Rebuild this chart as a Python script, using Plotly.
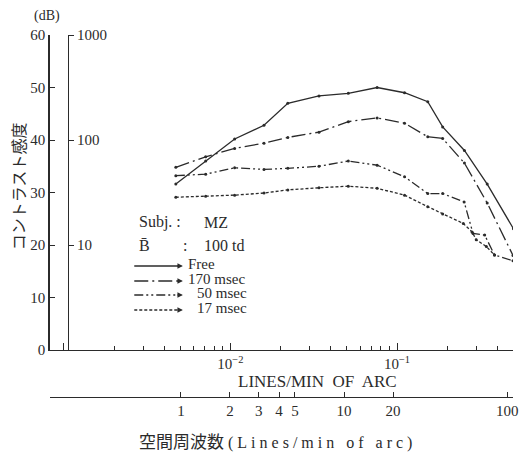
import plotly.graph_objects as go

# Spatial frequency (lines/min of arc) and contrast sensitivity (dB)
free_f = [0.0047, 0.0071, 0.0106, 0.0159, 0.0221, 0.034, 0.051, 0.076, 0.111, 0.153, 0.188, 0.254, 0.348, 0.50]
free_db = [31.6, 36.0, 40.2, 42.8, 47.0, 48.4, 48.9, 50.0, 49.0, 47.3, 42.5, 38.0, 31.6, 23.1]

m170_f = [0.0047, 0.0071, 0.0106, 0.0159, 0.0221, 0.034, 0.051, 0.076, 0.111, 0.153, 0.188, 0.254, 0.348, 0.497]
m170_db = [34.8, 36.8, 38.4, 39.4, 40.5, 41.5, 43.5, 44.2, 43.2, 40.6, 40.3, 35.6, 28.0, 18.0]

m50_f = [0.0047, 0.0071, 0.0106, 0.0159, 0.0221, 0.034, 0.051, 0.076, 0.111, 0.153, 0.188, 0.253, 0.286, 0.336, 0.385, 0.497]
m50_db = [33.2, 33.5, 34.7, 34.4, 34.6, 35.0, 36.0, 35.2, 33.0, 29.8, 29.8, 28.2, 22.2, 21.9, 18.1, 17.0]

m17_f = [0.0047, 0.0071, 0.0106, 0.0159, 0.0221, 0.034, 0.051, 0.076, 0.111, 0.153, 0.188, 0.25, 0.282, 0.299, 0.344, 0.385]
m17_db = [29.1, 29.3, 29.5, 29.9, 30.5, 30.9, 31.2, 30.8, 29.5, 27.3, 25.9, 24.1, 22.5, 21.0, 19.7, 18.1]

series_names = ["Free", "170 msec", "50 msec", "17 msec"]
series_dash = ["solid", "14px,4px,2px,4px", "9px,3px,2px,3px,2px,3px", "3px,2px"]

# Axis ticks
db_ticks = [0, 10, 20, 30, 40, 50, 60]
sens_ticks = [10, 100, 1000]
upper_major = [0.001, 0.01, 0.1]
upper_major_text = ["", "10<sup>−2</sup>", "10<sup>−1</sup>"]
upper_minor = [k * 0.001 for k in range(2, 10)] + [k * 0.01 for k in range(2, 10)] + [0.2, 0.3, 0.4]
lower_ticks = [1, 2, 3, 4, 5, 10, 20, 100]

INK = "#2b2b2b"
SERIF = "Liberation Serif, Times New Roman, DejaVu Serif, serif"
CJK = "Noto Sans CJK JP"

W, H = 530, 454
L, R, T, B = 50, 13, 35, 57
PW, PH = W - L - R, H - T - B


def px(x):
    return (x - L) / PW


def py(y):
    return (H - B - y) / PH


def sfont(size):
    return dict(family=SERIF, size=size, color=INK)


fig = go.Figure()

for f, db, name, dash in zip([free_f, m170_f, m50_f, m17_f],
                             [free_db, m170_db, m50_db, m17_db],
                             series_names, series_dash):
    fig.add_trace(go.Scatter(
        x=f, y=db, name=name, mode="lines+markers",
        line=dict(color=INK, width=1.3, dash=dash),
        marker=dict(size=3, color=INK),
        showlegend=False,
    ))

# carrier trace for the secondary scales
fig.add_trace(go.Scatter(x=[10], y=[10], xaxis="x2", yaxis="y2", mode="markers",
                         marker=dict(opacity=0), hoverinfo="skip", showlegend=False))

ydom0 = (H - B - 350) / PH

fig.update_layout(
    width=W, height=H,
    margin=dict(l=L, r=R, t=T, b=B),
    paper_bgcolor="white", plot_bgcolor="white",
    font=sfont(15),
    xaxis=dict(
        type="log", range=[-3.0833, -0.3036], showgrid=False, zeroline=False,
        showline=True, linecolor=INK, linewidth=1.3,
        ticks="inside", ticklen=7, tickwidth=1, tickcolor=INK,
        tickvals=upper_major, ticktext=upper_major_text,
        minor=dict(tickvals=upper_minor, ticks="inside", ticklen=4, tickcolor=INK, showgrid=False),
        tickfont=sfont(15),
    ),
    xaxis2=dict(
        type="log", range=[-0.8024, 2.036],
        overlaying="x", anchor="free", position=0, side="bottom",
        showgrid=False, zeroline=False,
        showline=True, linecolor=INK, linewidth=1.3,
        ticks="inside", ticklen=5, tickcolor=INK,
        tickvals=lower_ticks, ticktext=[str(v) for v in lower_ticks],
        tickfont=sfont(15),
    ),
    yaxis=dict(
        range=[0, 60], domain=[ydom0, 1], showgrid=False, zeroline=False,
        showline=True, linecolor=INK, linewidth=1.5,
        ticks="inside", ticklen=5, tickcolor=INK,
        tickvals=db_ticks, tickfont=sfont(15),
    ),
    yaxis2=dict(
        type="log", range=[0, 3], overlaying="y", anchor="free",
        position=px(68), side="right",
        showgrid=False, zeroline=False,
        showline=True, linecolor=INK, linewidth=1.3,
        ticks="outside", ticklen=5, tickcolor=INK,
        tickvals=sens_ticks, ticktext=[str(v) for v in sens_ticks],
        tickfont=sfont(15),
    ),
)

ann = [
    dict(x=px(47), y=py(16), text="(dB)", font=sfont(14)),
    dict(x=px(18), y=py(186), text="コントラスト感度", textangle=-90,
         font=dict(family=CJK, size=16, color=INK)),
    dict(x=px(320), y=py(381), text="LINES/MIN  OF  ARC", font=sfont(17)),
    dict(x=px(279), y=py(440),
         text="<span style=\"font-family:Noto Sans CJK JP;font-size:17px\">空間周波数</span> "
              "<span style=\"letter-spacing:4px\">(Lines/min of arc)</span>",
         font=sfont(16)),
    dict(x=px(138), y=py(222), text="Subj. :", xanchor="left", font=sfont(16)),
    dict(x=px(203), y=py(222), text="MZ", xanchor="left", font=sfont(16)),
    dict(x=px(138), y=py(245), text="B\u0304", xanchor="left", font=sfont(16)),
    dict(x=px(182), y=py(245), text=":", xanchor="left", font=sfont(16)),
    dict(x=px(203), y=py(245), text="100 td", xanchor="left", font=sfont(16)),
]

legend_y = [265, 280, 294, 309]
legend_tx = [187, 187, 196, 196]
shapes = []
arrows = []
for name, dash, ly, tx in zip(series_names, series_dash, legend_y, legend_tx):
    shapes.append(dict(type="line", xref="paper", yref="paper",
                       x0=px(135), x1=px(180), y0=py(ly + 1), y1=py(ly + 1),
                       line=dict(color=INK, width=1.3, dash=dash)))
    arrows.append(dict(x=px(184), y=py(ly + 1), ax=-7, ay=0, text="", showarrow=True,
                       arrowhead=2, arrowsize=0.9, arrowwidth=1.2, arrowcolor=INK))
    ann.append(dict(x=px(tx), y=py(ly - 1), text=name, xanchor="left", font=sfont(15)))

for a in ann:
    a.setdefault("xanchor", "center")
    a["yanchor"] = "middle"
ann = ann + arrows
for a in ann:
    a.setdefault("xref", "paper")
    a.setdefault("yref", "paper")
    a.setdefault("showarrow", False)
fig.update_layout(annotations=ann, shapes=shapes)

fig.write_html("out.html")
